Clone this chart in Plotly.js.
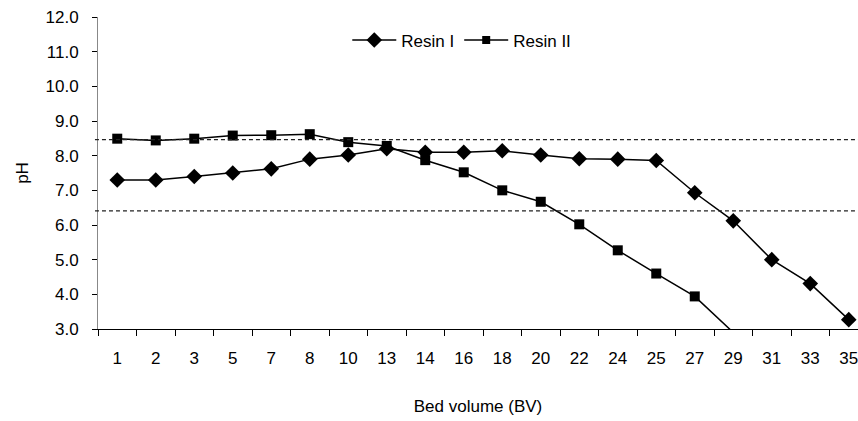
<!DOCTYPE html>
<html>
<head>
<meta charset="utf-8">
<script src="https://cdn.plot.ly/plotly-3.0.1.min.js"></script>
<style>html,body{margin:0;padding:0;background:#fff;}#chart{width:858px;height:421px;}</style>
</head>
<body>
<div id="chart"></div>
<script>
const categories = ["1","2","3","5","7","8","10","13","14","16","18","20","22","24","25","27","29","31","33","35"];
const resinI = [7.3, 7.3, 7.4, 7.5, 7.62, 7.9, 8.02, 8.2, 8.1, 8.1, 8.14, 8.02, 7.91, 7.9, 7.86, 6.93, 6.12, 5.0, 4.31, 3.27];
const resinII = [8.49, 8.44, 8.49, 8.58, 8.59, 8.62, 8.39, 8.28, 7.87, 7.52, 7.0, 6.67, 6.02, 5.27, 4.6, 3.94, 2.9, null, null, null];
const limitHigh = 8.46;
const limitLow = 6.41;
const yTicks = [3,4,5,6,7,8,9,10,11,12];
const yMin = 3, yMax = 12;

const font = {family: "Liberation Sans, Arial, sans-serif", size: 17, color: "#000"};
// points outside the axis range are hidden entirely (as the original chart does)
const sizeFor = (arr, s) => arr.map(v => (v === null || v < yMin) ? 0 : s);

const traces = [
  {x: categories, y: resinI, name: "Resin I", type: "scatter", mode: "lines+markers",
   line: {color: "#000", width: 1.5},
   marker: {symbol: "diamond", size: sizeFor(resinI, 12), color: "#000", opacity: 1, line: {width: 0}}, cliponaxis: true},
  {x: categories, y: resinII, name: "Resin II", type: "scatter", mode: "lines+markers",
   line: {color: "#000", width: 1.5},
   marker: {symbol: "square", size: sizeFor(resinII, 10), color: "#000", opacity: 1, line: {width: 0}}, cliponaxis: true}
];

const layout = {
  width: 858, height: 421,
  margin: {l: 98, r: 0, t: 17, b: 92},
  paper_bgcolor: "#fff", plot_bgcolor: "#fff",
  font: font,
  showlegend: true,
  legend: {orientation: "h", x: 0.328, y: 0.925, xanchor: "left", yanchor: "middle", itemwidth: 44,
           font: {family: font.family, size: 17, color: "#000"}, bgcolor: "rgba(0,0,0,0)"},
  xaxis: {
    type: "category", categoryarray: categories, range: [-0.5, 19.24],
    showgrid: false, zeroline: false, showline: true, linecolor: "#000", linewidth: 1,
    ticks: "outside", tickson: "boundaries", ticklen: 6, tickcolor: "#000",
    ticklabelstandoff: 14,
    title: {text: "Bed volume (BV)", font: {family: font.family, size: 17}, standoff: 32}
  },
  yaxis: {
    range: [yMin, yMax], tickvals: yTicks, tickformat: ".1f",
    showgrid: false, zeroline: false, showline: true, linecolor: "#888", linewidth: 1,
    ticks: "outside", ticklen: 5, tickcolor: "#000", ticklabelstandoff: 10,
    title: {text: "pH", font: {family: font.family, size: 17}, standoff: 12}
  },
  shapes: [
    {type: "line", xref: "paper", yref: "y", x0: -0.004, x1: 1, y0: limitHigh, y1: limitHigh,
     line: {color: "#222", width: 1.3, dash: "4px,3px"}},
    {type: "line", xref: "paper", yref: "y", x0: -0.004, x1: 1, y0: limitLow, y1: limitLow,
     line: {color: "#222", width: 1.3, dash: "4px,3px"}}
  ]
};

Plotly.newPlot("chart", traces, layout, {displayModeBar: false, staticPlot: true});
</script>
</body>
</html>
